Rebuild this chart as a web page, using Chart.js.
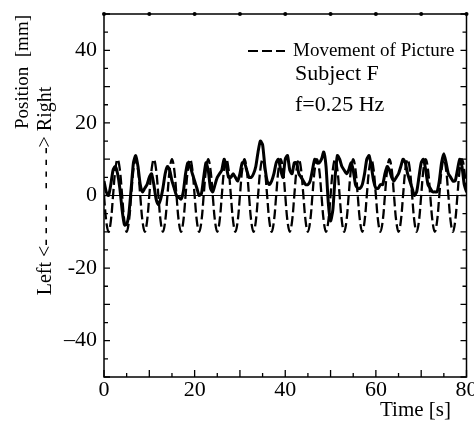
<!DOCTYPE html>
<html>
<head>
<meta charset="utf-8">
<script src="https://cdn.jsdelivr.net/npm/chart.js@4.4.1/dist/chart.umd.min.js"></script>
<style>
	html, body { margin: 0; padding: 0; background: #fff; }
	#wrap { width: 474px; height: 422px; }
</style>
</head>
<body>
<div id="wrap"><canvas id="chart" width="474" height="422"></canvas></div>
<script>
// one sample every half second, 0 .. 80 s
const SAMPLE_STEP = 0.5;

// subject's measured position [mm]
const subjectPosition = [
	4, 1, 0, 3, 7, 8, 6, 2,
	-4, -8, -8, -5, 2, 9, 11, 8,
	3, 1, 2, 3, 5, 6, 3, -1,
	-2.5, -1, 2, 6, 8, 7, 4, 2,
	0, -0.5, -1, 1, 6, 9, 8, 6,
	4, 2, 0, 0.5, 5, 9, 7, 2,
	1, 3, 5, 6, 7, 10, 8, 5,
	5, 6, 5, 4, 6, 9, 9, 7,
	5, 5, 6, 8, 12, 15, 14, 8,
	4, 3, 4, 6, 9, 10, 7, 5,
	10, 11, 7, 6, 9, 9, 6, 5,
	4, 3, 3, 4, 7, 10, 9, 9,
	10, 12, 8, -2, -7, -4, 5, 11,
	10, 8, 7, 6, 7, 9, 7, 3,
	2, 2, 3, 6, 10, 11, 8, 4,
	2, 2, 3, 3, 6, 8, 7, 5,
	4, 5, 6, 8, 10, 9, 6, 4,
	2, 0, 1, 5, 9, 10, 7, 3,
	2, 1, 1, 1, 4, 9, 11.5, 9,
	6, 5, 4, 4, 7, 10, 8, 3,
	1
];

// movement of the picture [mm], 0.25 Hz
const picturePosition = [
	0, -7.1, -10, -7.1, 0, 7.1, 10, 7.1,
	0, -7.1, -10, -7.1, 0, 7.1, 10, 7.1,
	0, -7.1, -10, -7.1, 0, 7.1, 10, 7.1,
	0, -7.1, -10, -7.1, 0, 7.1, 10, 7.1,
	0, -7.1, -10, -7.1, 0, 7.1, 10, 7.1,
	0, -7.1, -10, -7.1, 0, 7.1, 10, 7.1,
	0, -7.1, -10, -7.1, 0, 7.1, 10, 7.1,
	0, -7.1, -10, -7.1, 0, 7.1, 10, 7.1,
	0, -7.1, -10, -7.1, 0, 7.1, 10, 7.1,
	0, -7.1, -10, -7.1, 0, 7.1, 10, 7.1,
	0, -7.1, -10, -7.1, 0, 7.1, 10, 7.1,
	0, -7.1, -10, -7.1, 0, 7.1, 10, 7.1,
	0, -7.1, -10, -7.1, 0, 7.1, 10, 7.1,
	0, -7.1, -10, -7.1, 0, 7.1, 10, 7.1,
	0, -7.1, -10, -7.1, 0, 7.1, 10, 7.1,
	0, -7.1, -10, -7.1, 0, 7.1, 10, 7.1,
	0, -7.1, -10, -7.1, 0, 7.1, 10, 7.1,
	0, -7.1, -10, -7.1, 0, 7.1, 10, 7.1,
	0, -7.1, -10, -7.1, 0, 7.1, 10, 7.1,
	0, -7.1, -10, -7.1, 0, 7.1, 10, 7.1,
	0
];

const xTickLabels = [0, 20, 40, 60, 80];
const yTickLabels = [-40, -20, 0, 20, 40];
const yTickText = ['\u201340', '-20', '0', '20', '40'];
const xMinorTicks = [0, 5, 10, 15, 20, 25, 30, 35, 40, 45, 50, 55, 60, 65, 70, 75, 80];
const yMinorTicks = [-50, -45, -40, -35, -30, -25, -20, -15, -10, -5, 0, 5, 10, 15, 20, 25, 30, 35, 40, 45, 50];
const topDotTimes = [0, 10, 20, 30, 40, 50, 60, 70, 80];

const SERIF = '"Liberation Serif", "Times New Roman", serif';

const toPoints = values => values.map((v, i) => ({ x: i * SAMPLE_STEP, y: v }));

const frame = {
	id: 'frame',
	beforeDatasetsDraw(chart) {
		const { ctx, chartArea: a, scales: { y } } = chart;
		const y0 = y.getPixelForValue(0);
		ctx.save();
		ctx.strokeStyle = '#000';
		ctx.lineWidth = 1.2;
		ctx.beginPath();
		ctx.moveTo(a.left, y0);
		ctx.lineTo(a.right, y0);
		ctx.stroke();
		ctx.restore();
	},
	afterDraw(chart) {
		const { ctx, chartArea: a, scales: { x, y } } = chart;
		ctx.save();
		ctx.strokeStyle = '#000';
		ctx.fillStyle = '#000';
		ctx.lineWidth = 1.5;
		ctx.strokeRect(a.left, a.top, a.right - a.left, a.bottom - a.top);

		// inward ticks
		ctx.lineWidth = 1.3;
		ctx.beginPath();
		xMinorTicks.forEach(t => {
			const px = x.getPixelForValue(t);
			const len = t % 10 === 0 ? 7 : 4;
			ctx.moveTo(px, a.bottom);
			ctx.lineTo(px, a.bottom - len);
		});
		yMinorTicks.forEach(v => {
			const py = y.getPixelForValue(v);
			const len = v % 10 === 0 ? 6 : 4;
			ctx.moveTo(a.left, py);
			ctx.lineTo(a.left + len, py);
			ctx.moveTo(a.right, py);
			ctx.lineTo(a.right - len, py);
		});
		ctx.stroke();

		topDotTimes.forEach(t => {
			ctx.beginPath();
			ctx.arc(x.getPixelForValue(t), a.top, 2, 0, Math.PI * 2);
			ctx.fill();
		});

		// legend + notes
		ctx.lineWidth = 2;
		ctx.setLineDash([10, 4]);
		ctx.beginPath();
		ctx.moveTo(248, 51);
		ctx.lineTo(285, 51);
		ctx.stroke();
		ctx.setLineDash([]);

		ctx.textAlign = 'left';
		ctx.textBaseline = 'alphabetic';
		ctx.font = '19px ' + SERIF;
		ctx.fillText('Movement of Picture', 293, 56);
		ctx.font = '22px ' + SERIF;
		ctx.fillText('Subject F', 295, 80);
		ctx.fillText('f=0.25 Hz', 295, 111);

		ctx.font = '21px ' + SERIF;
		ctx.fillText('Time [s]', 380, 416);

		// y titles
		ctx.textAlign = 'center';
		ctx.font = '19px ' + SERIF;
		ctx.save();
		ctx.translate(28, 72);
		ctx.rotate(-Math.PI / 2);
		ctx.fillText('Position  [mm]', 0, 0);
		ctx.restore();

		ctx.font = '20px ' + SERIF;
		ctx.save();
		ctx.translate(51, 191);
		ctx.rotate(-Math.PI / 2);
		ctx.fillText('Left <- - - -   - - - -> Right', 0, 0);
		ctx.restore();

		ctx.restore();
	}
};

new Chart(document.getElementById('chart'), {
	type: 'line',
	data: {
		datasets: [
			{
				label: 'Subject F',
				data: toPoints(subjectPosition),
				borderColor: '#000',
				borderWidth: 3,
				pointRadius: 0,
				tension: 0.2,
				fill: false
			},
			{
				label: 'Movement of Picture',
				data: toPoints(picturePosition),
				borderColor: '#000',
				borderWidth: 2.3,
				borderDash: [10, 4],
				pointRadius: 0,
				tension: 0.4,
				fill: false
			}
		]
	},
	options: {
		responsive: false,
		animation: false,
		devicePixelRatio: 1,
		layout: { padding: { top: 14, right: 7.5, left: 0, bottom: 0 } },
		plugins: {
			legend: { display: false },
			tooltip: { enabled: false }
		},
		scales: {
			x: {
				type: 'linear',
				min: 0,
				max: 80,
				afterBuildTicks: s => { s.ticks = xTickLabels.map(v => ({ value: v })); },
				afterFit: s => { s.height = 45; s.paddingLeft = 0; s.paddingRight = 0; },
				grid: { display: false, drawTicks: false },
				border: { display: false },
				ticks: {
					autoSkip: false,
					maxRotation: 0,
					padding: 0,
					color: '#000',
					font: { family: SERIF, size: 22 }
				}
			},
			y: {
				min: -50,
				max: 50,
				afterBuildTicks: s => { s.ticks = yTickLabels.map(v => ({ value: v })); },
				afterFit: s => { s.width = 104; s.paddingTop = 0; s.paddingBottom = 0; },
				grid: { display: false, drawTicks: false },
				border: { display: false },
				ticks: {
					padding: 7,
					color: '#000',
					font: { family: SERIF, size: 22 },
					callback: v => yTickText[yTickLabels.indexOf(v)]
				}
			}
		}
	},
	plugins: [frame]
});
</script>
</body>
</html>
